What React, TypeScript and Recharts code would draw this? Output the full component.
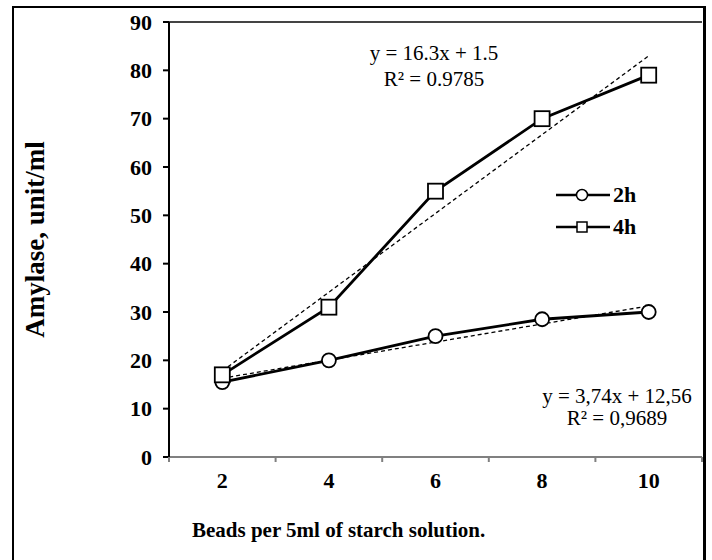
import React from "react";
import { LineChart, Line, XAxis, YAxis, ReferenceLine, Label } from "recharts";

const categories = [2, 4, 6, 8, 10];
const series2h = [15.5, 20, 25, 28.5, 30];
const series4h = [17, 31, 55, 70, 79];
const trend2h = [16.3, 20.04, 23.78, 27.52, 31.26];
const trend4h = [17.8, 34.1, 50.4, 66.7, 83.0];
const seriesNames = ["2h", "4h"];
const xTickValues = [1, 2, 3, 4, 5, 6, 7, 8, 9, 10, 11];
const yTicks = [0, 10, 20, 30, 40, 50, 60, 70, 80, 90];
const eq4h = ["y = 16.3x + 1.5", "R² = 0.9785"];
const eq2h = ["y = 3,74x + 12,56", "R² = 0,9689"];

const data = categories.map((c, i) => ({
  beads: c,
  h2: series2h[i],
  h4: series4h[i],
  t2: trend2h[i],
  t4: trend4h[i],
}));

const FONT = "'Liberation Serif', 'Times New Roman', serif";

const XTick = (props: any) => {
  const { x, y, payload } = props;
  if (categories.includes(payload.value)) {
    return (
      <text x={x} y={y + 31} textAnchor="middle" fontFamily={FONT} fontWeight="bold" fontSize={22} fill="#000">
        {payload.value}
      </text>
    );
  }
  return <line x1={x} x2={x} y1={y} y2={y + 5} stroke="#808080" strokeWidth={2} />;
};

const Square = (props: any) => {
  const { cx, cy } = props;
  if (cx == null || cy == null) return null;
  return <rect x={cx - 7.5} y={cy - 7.5} width={15} height={15} fill="#fff" stroke="#000" strokeWidth={1.8} />;
};

const Circle = (props: any) => {
  const { cx, cy } = props;
  if (cx == null || cy == null) return null;
  return <circle cx={cx} cy={cy} r={7} fill="#fff" stroke="#000" strokeWidth={1.8} />;
};

const eqStyle: React.CSSProperties = {
  position: "absolute",
  fontFamily: FONT,
  fontSize: 21,
  textAlign: "center",
  color: "#000",
  whiteSpace: "nowrap",
};

export default function App() {
  return (
    <div style={{ position: "absolute", left: 0, top: 0, width: 712, height: 560, background: "#fff", overflow: "hidden" }}>
      <div
        style={{
          position: "absolute",
          left: 12,
          top: 6,
          width: 689,
          height: 600,
          borderLeft: "2px solid #000",
          borderTop: "2px solid #000",
          borderRight: "3px solid #000",
        }}
      />
      <div style={{ position: "absolute", left: 0, top: 0 }}>
        <LineChart width={712} height={560} data={data} margin={{ top: 22, right: 10, bottom: 0, left: 0 }}>
          <XAxis
            dataKey="beads"
            type="number"
            domain={[1, 11]}
            ticks={xTickValues}
            interval={0}
            tickLine={false}
            tickSize={0}
            tickMargin={0}
            axisLine={{ stroke: "#808080", strokeWidth: 2 }}
            tick={<XTick />}
            height={103}
          >
            <Label
              value="Beads per 5ml of starch solution."
              position="insideBottomLeft"
              offset={23}
              style={{ fontFamily: FONT, fontWeight: "bold", fontSize: 21, fill: "#000" }}
            />
          </XAxis>
          <YAxis
            type="number"
            domain={[0, 90]}
            ticks={yTicks}
            interval={0}
            width={169}
            axisLine={{ stroke: "#000", strokeWidth: 2 }}
            tickLine={{ stroke: "#000", strokeWidth: 2 }}
            tickSize={6}
            tickMargin={11}
            tick={{ fontFamily: FONT, fontWeight: "bold", fontSize: 22, fill: "#000" }}
          >
            <Label
              value="Amylase,  unit/ml"
              angle={-90}
              position="insideLeft"
              offset={34}
              style={{ textAnchor: "middle", fontFamily: FONT, fontWeight: "bold", fontSize: 27, fill: "#000" }}
            />
          </YAxis>
          <ReferenceLine y={90} stroke="#444" strokeWidth={2} />
          <Line dataKey="t4" stroke="#000" strokeWidth={1.3} strokeDasharray="4 3" dot={false} isAnimationActive={false} />
          <Line dataKey="t2" stroke="#000" strokeWidth={1.3} strokeDasharray="4 3" dot={false} isAnimationActive={false} />
          <Line dataKey="h2" name={seriesNames[0]} stroke="#000" strokeWidth={2.8} dot={<Circle />} isAnimationActive={false} />
          <Line dataKey="h4" name={seriesNames[1]} stroke="#000" strokeWidth={2.8} dot={<Square />} isAnimationActive={false} />
        </LineChart>
      </div>
      <div style={{ position: "absolute", left: 556, top: 179, fontFamily: FONT, fontWeight: "bold", fontSize: 22 }}>
        {seriesNames.map((name, i) => (
          <div key={name} style={{ display: "flex", alignItems: "center", height: 32 }}>
            <svg width={54} height={20}>
              <line x1={0} x2={54} y1={10} y2={10} stroke="#000" strokeWidth={2.5} />
              {i === 0 ? (
                <circle cx={26} cy={10} r={5.5} fill="#fff" stroke="#000" strokeWidth={1.5} />
              ) : (
                <rect x={21} y={5} width={10} height={10} fill="#fff" stroke="#000" strokeWidth={1.5} />
              )}
            </svg>
            <span style={{ marginLeft: 3 }}>{name}</span>
          </div>
        ))}
      </div>
      <div style={{ ...eqStyle, left: 349, top: 40, width: 170, lineHeight: "26px" }}>
        <div>{eq4h[0]}</div>
        <div>{eq4h[1]}</div>
      </div>
      <div style={{ ...eqStyle, left: 527, top: 385, width: 180, lineHeight: "22px" }}>
        <div>{eq2h[0]}</div>
        <div>{eq2h[1]}</div>
      </div>
    </div>
  );
}
